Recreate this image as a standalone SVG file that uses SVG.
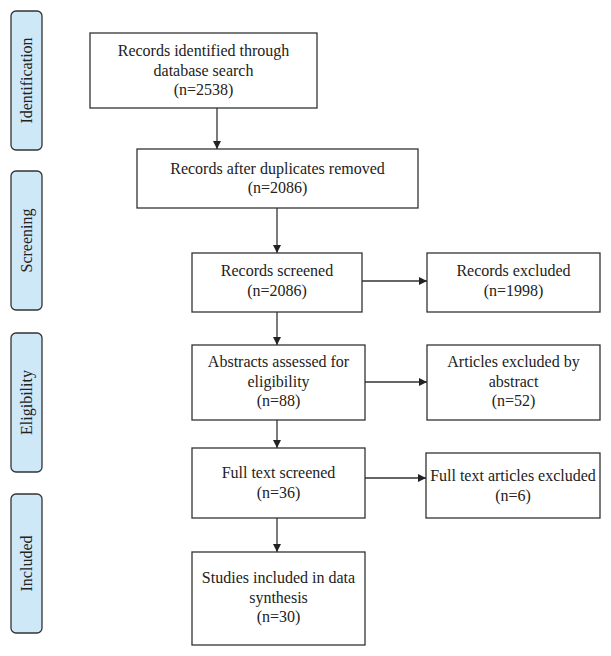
<svg xmlns="http://www.w3.org/2000/svg" width="611" height="656" viewBox="0 0 611 656">
<defs>
<marker id="ah" viewBox="0 0 10 10" refX="10" refY="5" markerWidth="8" markerHeight="8" markerUnits="userSpaceOnUse" orient="auto">
<path d="M0,0 L10,5 L0,10 z" fill="#222"/>
</marker>
<style>
.box{fill:#fff;stroke:#333;stroke-width:1.3}
.lab{fill:#cfe8f8;stroke:#333;stroke-width:1.3}
text{font-family:"Liberation Serif","Times New Roman",serif;font-size:16px;fill:#222;text-anchor:middle}
.c{fill:none;stroke:#333;stroke-width:1.3}
</style>
</defs>
<rect width="611" height="656" fill="#fff"/>
<g id="stage-identification"><rect class="lab" x="11" y="11" width="31" height="139" rx="5"/><text transform="translate(32,80.5) rotate(-90)">Identification</text></g>
<g id="stage-screening"><rect class="lab" x="11" y="171" width="31" height="139" rx="5"/><text transform="translate(32,240.5) rotate(-90)">Screening</text></g>
<g id="stage-eligibility"><rect class="lab" x="11" y="333" width="31" height="139" rx="5"/><text transform="translate(32,402.5) rotate(-90)">Eligibility</text></g>
<g id="stage-included"><rect class="lab" x="11" y="494" width="31" height="139" rx="5"/><text transform="translate(32,563.5) rotate(-90)">Included</text></g>

<g id="n1"><rect class="box" x="90" y="33" width="227" height="75"/><text x="203.5" y="56">Records identified through<tspan x="203.5" y="75.5">database search</tspan><tspan x="203.5" y="95">(n=2538)</tspan></text></g>
<g id="n2"><rect class="box" x="137" y="149" width="281" height="59"/><text x="277.5" y="173.5">Records after duplicates removed<tspan x="277.5" y="193">(n=2086)</tspan></text></g>
<g id="n3"><rect class="box" x="192" y="253" width="170" height="59"/><text x="277" y="276">Records screened<tspan x="277" y="295.5">(n=2086)</tspan></text></g>
<g id="n4"><rect class="box" x="427" y="253" width="173" height="59"/><text x="513.5" y="276">Records excluded<tspan x="513.5" y="295.5">(n=1998)</tspan></text></g>
<g id="n5"><rect class="box" x="192" y="345" width="173" height="75"/><text x="278.5" y="367">Abstracts assessed for<tspan x="278.5" y="386.5">eligibility</tspan><tspan x="278.5" y="406">(n=88)</tspan></text></g>
<g id="n6"><rect class="box" x="427" y="345" width="173" height="75"/><text x="513.5" y="367">Articles excluded by<tspan x="513.5" y="386.5">abstract</tspan><tspan x="513.5" y="406">(n=52)</tspan></text></g>
<g id="n7"><rect class="box" x="192" y="448" width="173" height="70"/><text x="278.5" y="478">Full text screened<tspan x="278.5" y="497.5">(n=36)</tspan></text></g>
<g id="n8"><rect class="box" x="426" y="453" width="174" height="65"/><text x="513" y="481">Full text articles excluded<tspan x="513" y="500.5">(n=6)</tspan></text></g>
<g id="n9"><rect class="box" x="192" y="552" width="173" height="93"/><text x="278.5" y="583">Studies included in data<tspan x="278.5" y="602.5">synthesis</tspan><tspan x="278.5" y="622">(n=30)</tspan></text></g>

<g id="connectors">
<line class="c" x1="217" y1="108" x2="217" y2="149" marker-end="url(#ah)"/>
<line class="c" x1="277" y1="208" x2="277" y2="253" marker-end="url(#ah)"/>
<line class="c" x1="362" y1="281" x2="427" y2="281" marker-end="url(#ah)"/>
<line class="c" x1="277" y1="312" x2="277" y2="345" marker-end="url(#ah)"/>
<line class="c" x1="365" y1="382" x2="427" y2="382" marker-end="url(#ah)"/>
<line class="c" x1="277" y1="420" x2="277" y2="448" marker-end="url(#ah)"/>
<line class="c" x1="365" y1="478" x2="426" y2="478" marker-end="url(#ah)"/>
<line class="c" x1="277" y1="518" x2="277" y2="552" marker-end="url(#ah)"/>
</g>
</svg>
